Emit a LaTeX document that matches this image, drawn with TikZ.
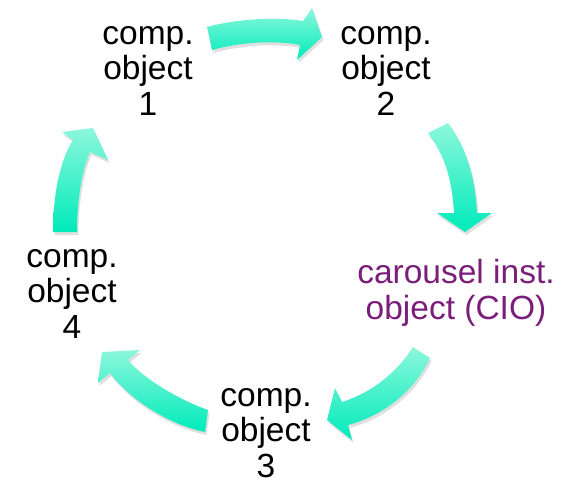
\documentclass[tikz,border=0pt]{standalone}
\usepackage{fontspec}
\setmainfont{Liberation Sans}
\usetikzlibrary{shadows}
\definecolor{arrtop}{HTML}{8CF7DC}
\definecolor{arrbot}{HTML}{00EBBA}
\definecolor{cio}{HTML}{7A1E7A}
\tikzset{
  blockarrow/.style={top color=arrtop, bottom color=arrbot, draw=none,
    drop shadow={shadow xshift=1.5pt, shadow yshift=-3pt, opacity=0.18, fill=black!70}},
  lbl/.style={align=center, anchor=base, inner sep=0pt,
    font=\fontsize{33.5}{35.5}\selectfont}
}
\begin{document}
\begin{tikzpicture}[x=1pt,y=-1pt]
\useasboundingbox (0,0) rectangle (568,483);
% labels (anchor = baseline of last line)
\node[lbl] (o1) at (148,115) {comp.\\object\\1};
\node[lbl] (o2) at (386,115) {comp.\\object\\2};
\node[lbl, text=cio] (cio) at (456,319) {carousel inst.\\object (CIO)};
\node[lbl] (o3) at (266,477) {comp.\\object\\3};
\node[lbl] (o4) at (72,338) {comp.\\object\\4};
% arrows
\path[blockarrow] (207,27) .. controls (240,18) and (280,17) .. (303,21)
  -- (312,8) -- (322,37) -- (297,60) -- (300,45)
  .. controls (275,40) and (240,42) .. (212,50) -- cycle;
\path[blockarrow] (428,133) .. controls (445,155) and (452,180) .. (454,213)
  -- (437,213) -- (465,232) -- (492,213) -- (477,213)
  .. controls (475,175) and (465,145) .. (448,123) -- cycle;
\path[blockarrow] (413,347) .. controls (395,375) and (370,393) .. (342,402)
  -- (335,388) -- (327,420) -- (352,440) -- (348,425)
  .. controls (385,415) and (415,390) .. (430,358) -- cycle;
\path[blockarrow] (208,410) .. controls (180,400) and (145,380) .. (128,360)
  -- (140,350) -- (102,352) -- (98,383) -- (110,373)
  .. controls (130,400) and (170,425) .. (205,432) -- cycle;
\path[blockarrow] (53,232) .. controls (53,195) and (60,160) .. (73,140)
  -- (62,132) -- (93,128) -- (108,160) -- (90,152)
  .. controls (82,170) and (77,200) .. (77,232) -- cycle;
\end{tikzpicture}
\end{document}
